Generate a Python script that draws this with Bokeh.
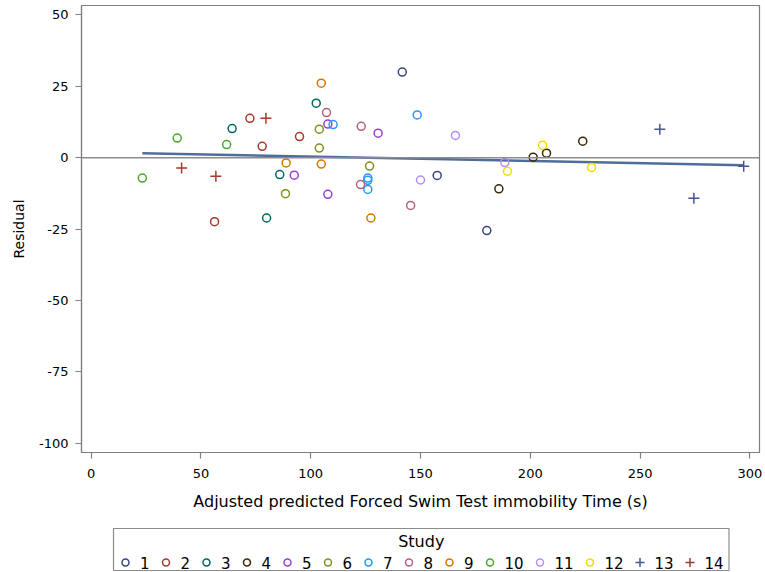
from bokeh.plotting import figure
from bokeh.layouts import column
from bokeh.models import Range1d, FixedTicker, Span
from bokeh.core.properties import value
from bokeh.embed import file_html
from bokeh.resources import INLINE

FONT = "DejaVu Sans"

studies = ["1", "2", "3", "4", "5", "6", "7", "8", "9", "10", "11", "12", "13", "14"]
colors = ["#36457f", "#a23a2e", "#01665e", "#3d2606", "#9d3cdb", "#7f8e1f", "#2597fa",
          "#b26084", "#d17800", "#47a82a", "#b38ef3", "#f2dc00", "#445694", "#a23a2e"]
markers = ["circle"] * 12 + ["cross", "cross"]

study_x = [
    [141.7, 157.6, 180.2],
    [72.3, 77.9, 94.9, 56.2],
    [102.5, 64.2, 85.9, 79.9],
    [185.7, 201.3, 207.4, 223.9],
    [107.8, 130.7, 92.5, 107.8],
    [103.9, 103.9, 88.5, 126.8],
    [110.2, 148.5, 126.0, 126.0, 126.0],
    [107.2, 123.0, 122.7, 145.5],
    [104.8, 88.8, 104.8, 127.4],
    [39.2, 61.7, 23.3],
    [165.9, 150.0, 188.4],
    [189.6, 205.6, 227.9],
    [259.0, 274.5, 297.2],
    [79.6, 41.2, 56.8],
]
study_y = [
    [30.0, -6.2, -25.5],
    [13.8, 4.0, 7.4, -22.4],
    [19.1, 10.2, -5.9, -21.1],
    [-10.9, 0.2, 1.6, 5.8],
    [11.8, 8.6, -6.1, -12.8],
    [10.0, 3.4, -12.6, -2.9],
    [11.6, 15.0, -7.1, -7.9, -11.1],
    [15.8, 11.0, -9.4, -16.7],
    [26.1, -1.8, -2.2, -21.1],
    [6.9, 4.6, -7.1],
    [7.8, -7.8, -1.7],
    [-4.7, 4.4, -3.4],
    [10.0, -14.2, -3.0],
    [13.8, -3.6, -6.5],
]

fit_x = [23.3, 297.2]
fit_y = [1.6, -2.6]

x_ticks = [0, 50, 100, 150, 200, 250, 300]
y_ticks = [-100, -75, -50, -25, 0, 25, 50]

# ---------------- main scatter plot ----------------
MAIN_H = 522
FRAME_L, FRAME_R = 81, 759
p = figure(width=765, height=MAIN_H,
           x_range=Range1d(-4.4, 304.4), y_range=Range1d(-103.2, 53.3),
           output_backend="svg", toolbar_location=None,
           min_border_left=FRAME_L, min_border_right=765 - FRAME_R, min_border_top=5,
           min_border_bottom=MAIN_H - 452)
p.grid.visible = False
p.outline_line_color = "#7f7f7f"
p.outline_line_width = 1.2
p.background_fill_color = "white"
p.border_fill_color = "white"

p.xaxis.ticker = FixedTicker(ticks=x_ticks)
p.yaxis.ticker = FixedTicker(ticks=y_ticks)
p.xaxis.major_label_overrides = {t: str(t) for t in x_ticks}
p.yaxis.major_label_overrides = {t: str(t) for t in y_ticks}
for ax in (p.xaxis[0], p.yaxis[0]):
    ax.axis_line_color = "#7f7f7f"
    ax.axis_line_width = 1.2
    ax.major_tick_line_color = "#7f7f7f"
    ax.major_tick_line_width = 1.2
    ax.major_tick_out = 6
    ax.major_tick_in = 0
    ax.minor_tick_line_color = None
    ax.major_label_text_font = FONT
    ax.major_label_text_font_size = "13px"
    ax.major_label_text_color = "black"
    ax.axis_label_text_font = FONT
    ax.axis_label_text_font_style = "normal"
    ax.axis_label_text_color = "black"

p.xaxis.axis_label = "Adjusted predicted Forced Swim Test immobility Time (s)"
p.xaxis.axis_label_text_font_size = "16px"
p.xaxis.major_label_standoff = 10
p.xaxis.axis_label_standoff = 11
p.yaxis.axis_label = "Residual"
p.yaxis.axis_label_text_font_size = "14px"
p.yaxis.major_label_standoff = 7
p.yaxis.axis_label_standoff = 9

p.add_layout(Span(location=0, dimension="width", line_color="#8c8c8c", line_width=1.5))
p.line(fit_x, fit_y, line_color="#4f6d9a", line_width=2.5)

for i, s in enumerate(studies):
    size = 8 if markers[i] == "circle" else 11
    p.scatter(study_x[i], study_y[i], marker=markers[i], size=size,
              fill_color=None, line_color=colors[i], line_width=1.5)

# ---------------- legend strip (a second Bokeh figure) ----------------
# the column layout aligns this strip's frame with the main frame, so its
# x range is expressed in page pixels between the frame edges
LEG_H = 572 - MAIN_H
leg = figure(width=765, height=LEG_H, x_range=Range1d(FRAME_L, FRAME_R), y_range=Range1d(LEG_H, 0),
             output_backend="svg", toolbar_location=None,
             x_axis_location=None, y_axis_location=None,
             min_border_left=FRAME_L, min_border_right=765 - FRAME_R,
             min_border_top=0, min_border_bottom=0)
leg.grid.visible = False
leg.outline_line_color = None
leg.background_fill_color = "white"
leg.border_fill_color = "white"

# horizontal layout of the legend entries (screen pixels)
DIGIT_W = 9.5
key_x, lab_x = [], []
cur = 125.0
for s in studies:
    key_x.append(cur)
    lab_x.append(cur + 14.5)
    cur = cur + 14.5 + DIGIT_W * len(s) + 16.5
box_left = key_x[0] - 12
box_right = lab_x[-1] + DIGIT_W * len(studies[-1]) + 5.5
row_y = 40
title_y = 19

leg.quad(left=[box_left], right=[box_right], top=[6], bottom=[48],
         fill_color="white", line_color="#8c8c8c", line_width=1.2)
leg.text(x=[(box_left + box_right) / 2], y=[title_y], text=["Study"],
         text_align="center", text_baseline="middle",
         text_font=value(FONT), text_font_size="16px", text_color="black")
for i, s in enumerate(studies):
    leg.scatter([key_x[i]], [row_y], marker=markers[i], size=7 if markers[i] == "circle" else 9,
                fill_color=None, line_color=colors[i], line_width=1.5)
leg.text(x=lab_x, y=[row_y] * len(studies), text=studies,
         text_align="left", text_baseline="middle",
         text_font=value(FONT), text_font_size="15px", text_color="black")

layout = column(p, leg, spacing=0)
open("out.html", "w").write(file_html(layout, INLINE))
